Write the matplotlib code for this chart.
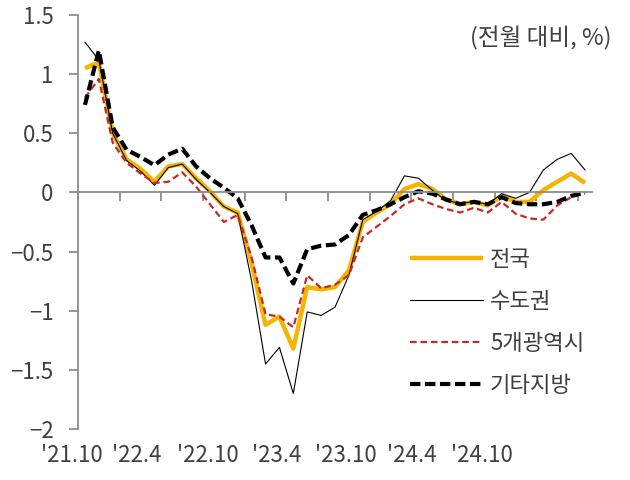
import numpy as np
import matplotlib.pyplot as plt

plt.rcParams['font.family'] = ['Noto Sans CJK KR', 'DejaVu Sans']
plt.rcParams['axes.unicode_minus'] = True

# 주택가격 전월 대비 변동률 (%), '21.10 ~ '24.10 월별
jeonguk = [1.05, 1.10, 0.50, 0.28, 0.20, 0.09, 0.22, 0.24, 0.12, 0.01,
           -0.12, -0.17, -0.60, -1.12, -1.05, -1.32, -0.80, -0.82, -0.80, -0.66,
           -0.25, -0.17, -0.10, 0.03, 0.07, 0.03, -0.06, -0.10, -0.08, -0.11,
           -0.03, -0.08, -0.08, 0.02, 0.09, 0.16, 0.08]
sudogwon = [1.27, 1.12, 0.50, 0.27, 0.18, 0.06, 0.21, 0.24, 0.11, 0.00,
            -0.12, -0.18, -0.75, -1.45, -1.31, -1.70, -1.01, -1.04, -0.97, -0.70,
            -0.23, -0.16, -0.07, 0.14, 0.12, 0.02, -0.07, -0.09, -0.08, -0.10,
            -0.01, -0.05, 0.00, 0.19, 0.28, 0.33, 0.19]
gwangyeok = [0.80, 0.96, 0.42, 0.25, 0.16, 0.08, 0.09, 0.17, 0.05, -0.10,
             -0.25, -0.19, -0.55, -1.03, -1.05, -1.14, -0.70, -0.81, -0.78, -0.70,
             -0.38, -0.29, -0.20, -0.10, -0.05, -0.10, -0.14, -0.17, -0.13, -0.17,
             -0.08, -0.18, -0.22, -0.23, -0.11, -0.04, -0.01]
gita = [0.74, 1.20, 0.55, 0.36, 0.30, 0.23, 0.32, 0.37, 0.22, 0.12,
        0.04, -0.05, -0.28, -0.55, -0.55, -0.77, -0.48, -0.45, -0.44, -0.36,
        -0.19, -0.15, -0.10, -0.04, 0.01, -0.01, -0.06, -0.10, -0.08, -0.10,
        -0.04, -0.09, -0.10, -0.10, -0.08, -0.03, 0.00]
date_labels = ["'21.10", "'22.4", "'22.10", "'23.4", "'23.10", "'24.4", "'24.10"]

x = np.arange(len(jeonguk))
fs = 16
axis_c = '#8c8c8c'
text_c = '#404040'

fig = plt.figure(figsize=(6.3, 4.8), dpi=100)
ax = fig.add_axes([78/630, 1 - 429/480, (592-78)/630, (429-15)/480])

ax.plot(x, jeonguk, color='#F5B400', lw=3.2, label='전국', solid_capstyle='butt')
ax.plot(x, sudogwon, color='black', lw=0.8, label='수도권')
ax.plot(x, gwangyeok, color='#C62828', lw=1.6, dashes=(3, 1.7), label='5개광역시')
ax.plot(x, gita, color='black', lw=3.0, dashes=(2.5, 1.1), label='기타지방')

ax.set_xlim(-0.5, 36.5)
ax.set_ylim(-2, 1.5)
ax.set_yticks(np.arange(-2, 1.51, 0.5))
ax.set_yticklabels(['−2', '−1.5', '−1', '−0.5', '0', '0.5', '1', '1.5'])
ax.set_xticks(np.arange(-0.5, 36, 3))
ax.set_xticklabels([])

for s in ['top', 'right']:
    ax.spines[s].set_visible(False)
ax.spines['bottom'].set_position(('data', 0))
for s in ['left', 'bottom']:
    ax.spines[s].set_color(axis_c)
    ax.spines[s].set_linewidth(1.3)
ax.tick_params(axis='both', direction='out', color=axis_c, width=1.3, length=6.5)
ax.tick_params(axis='y', labelsize=fs, labelcolor=text_c, pad=11)

# 날짜 레이블 (원본 위치대로)
label_x = [-0.95, 3.75, 8.85, 13.8, 18.75, 23.5, 28.55]
for lx, lab in zip(label_x, date_labels):
    ax.text(lx, -0.065, lab, transform=ax.get_xaxis_transform(),
            ha='center', va='center', fontsize=fs, color=text_c)

fig.text(611/630, 1 - 38/480, '(전월 대비, %)', ha='right', va='center',
         fontsize=17, color=text_c)

ax.legend(loc='upper left', bbox_to_anchor=(410/630, 1 - 248/480),
          bbox_transform=fig.transFigure, frameon=False, fontsize=fs,
          handlelength=3.3, handletextpad=0.3, labelspacing=0.85,
          borderpad=0, borderaxespad=0, labelcolor=text_c)

plt.savefig('out.png', dpi=100)
